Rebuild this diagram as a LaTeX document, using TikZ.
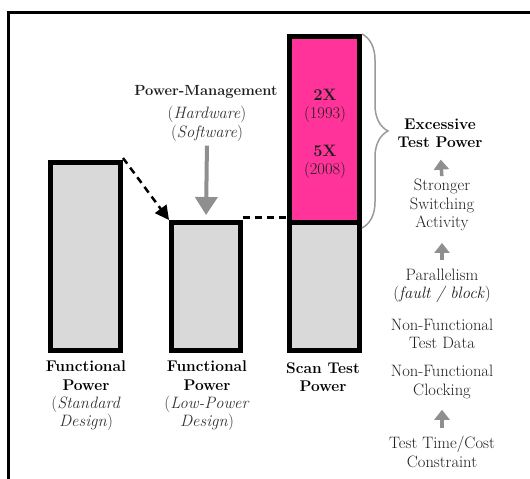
\documentclass[tikz,border=0pt]{standalone}
\usetikzlibrary{arrows.meta,decorations.pathreplacing}
\definecolor{barfill}{HTML}{D9D9D9}
\definecolor{hot}{HTML}{FF3399}
\definecolor{arrowgray}{HTML}{8F8F8F}
\definecolor{bracegray}{HTML}{9A9A9A}
\definecolor{txt}{HTML}{1E1E1E}
\definecolor{subtxt}{HTML}{333333}
\tikzset{
  bar/.style={draw=black, line width=5pt, fill=barfill, rectangle, inner sep=0pt, anchor=north west},
  lbl/.style={align=center, inner sep=0pt, font=\fontsize{16.5}{18.3}\selectfont, text=txt},
  blbl/.style={align=center, inner sep=0pt, font=\fontsize{15.5}{18.3}\selectfont\bfseries, text=black},
  grayarrow/.style={draw=arrowgray, line width=4pt, -{Triangle[width=22pt,length=18pt]}},
  uparrow/.style={draw=arrowgray, line width=3.5pt, -{Triangle[width=15pt,length=10pt]}},
  dashline/.style={draw=black, line width=2.5pt, dash pattern=on 7pt off 5pt},
}
\newcommand{\subit}[1]{{\fontsize{16.5}{18.3}\selectfont\mdseries\color{subtxt}#1}}
\begin{document}
\begin{tikzpicture}[x=1pt,y=-1pt]
\useasboundingbox (0,0) rectangle (530,479);
% frame
\draw[line width=3pt] (8,479) -- (8,12) -- (530,12);

% bars
\node[bar, minimum width=70pt, minimum height=188pt] (bar1) at (48,160) {};
\node[bar, minimum width=69pt, minimum height=128pt] (bar2) at (169,220) {};
\node[bar, fill=hot, minimum width=70pt, minimum height=186pt] (bar3top) at (287,34) {};
\node[bar, minimum width=70pt, minimum height=128pt] (bar3bot) at (287,220) {};

% dashed connectors
\draw[dashline, -{Triangle[length=14pt,width=14pt]}] ([yshift=2pt]bar1.north east) -- (bar2.north west);
\draw[dashline] ([yshift=2.5pt]bar2.north east) -- ([yshift=2.5pt]bar3bot.north west);

% power management
\node[blbl, font=\fontsize{14.7}{18.3}\selectfont\bfseries, text=txt] (pm) at (206,92) {Power-Management};
\node[lbl, text=subtxt] (pmsub) at (207,124) {(\textit{Hardware})\\(\textit{Software})};
\draw[grayarrow, shorten <=4pt, shorten >=5pt] (pmsub.south) -- (bar2.north);

% factors in scan bar
\node[lbl] (f2x) at (325,106) {\textbf{2X}\\(1993)};
\node[lbl] (f5x) at (325,162) {\textbf{5X}\\(2008)};

% brace
\draw[decorate, decoration={brace, amplitude=26pt, aspect=0.5}, draw=bracegray, line width=1.5pt]
  (bar3top.north east) -- ([yshift=-3pt]bar3top.south east);

% right column
\node[blbl] (excess) at (440,133) {Excessive\\Test Power};
\node[lbl] (stronger) at (442,205) {Stronger\\Switching\\Activity};
\node[lbl] (parallel) at (442,286) {Parallelism\\(\textit{fault / block})};
\node[lbl] (testdata) at (442,334) {Non-Functional\\Test Data};
\node[lbl] (clocking) at (442,382) {Non-Functional\\Clocking};
\node[lbl] (cost) at (442,452) {Test Time/Cost\\Constraint};

\draw[uparrow, shorten <=3pt, shorten >=12pt] (stronger.north) -- (excess.south);
\draw[uparrow, shorten <=9pt, shorten >=12pt] (parallel.north) -- (stronger.south);
\draw[uparrow, shorten <=8pt, shorten >=11pt] (cost.north) -- (clocking.south);

% bar labels
\node[blbl] (lab1) at (86,396) {Functional\\Power\\\subit{(\textit{Standard}}\\\subit{\textit{Design})}};
\node[blbl] (lab2) at (207,396) {Functional\\Power\\\subit{(\textit{Low-Power}}\\\subit{\textit{Design})}};
\node[blbl] (lab3) at (323,377) {Scan Test\\Power};
\end{tikzpicture}
\end{document}
